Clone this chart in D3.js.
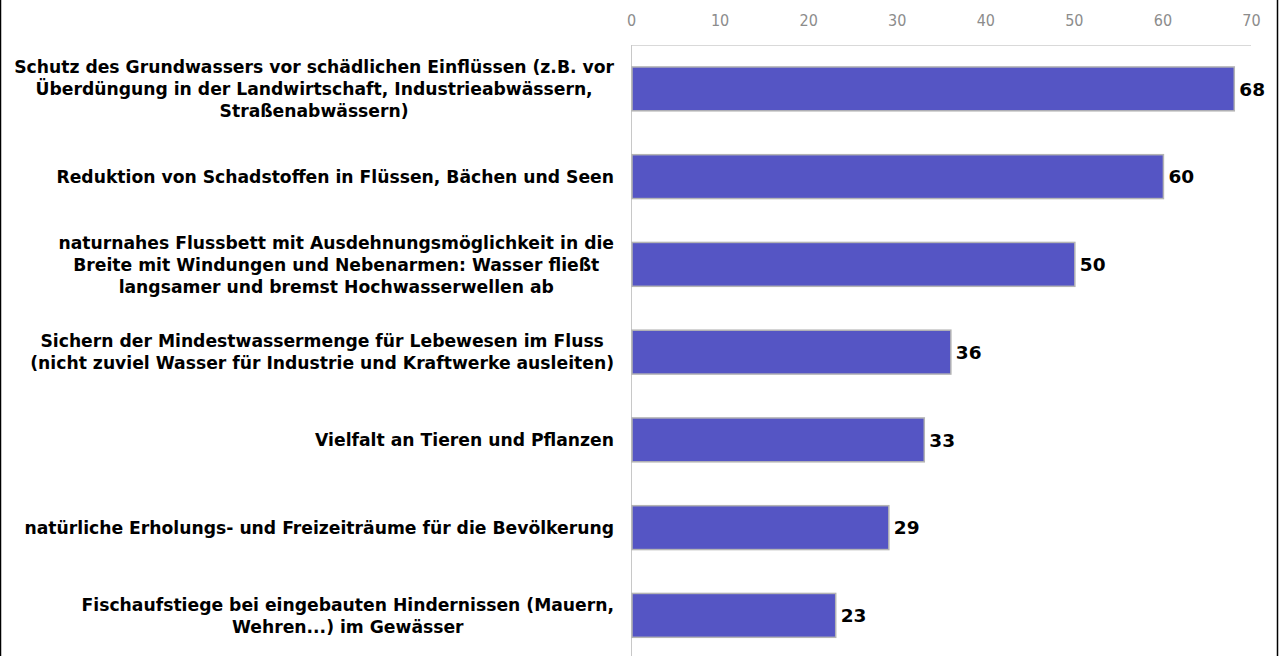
<!DOCTYPE html>
<html>
  <head>
    <meta charset="utf-8">
    <script src="https://d3js.org/d3.v7.min.js"></script>
    <style>
      body { margin: 0; background: #fff; }
      svg { display: block; }
      .cat { font-family: "DejaVu Sans", sans-serif; font-weight: bold; font-size: 17.2px; fill: #000; }
      .val { font-family: "DejaVu Sans", sans-serif; font-weight: bold; font-size: 18.5px; fill: #000; }
      .tick text { font-family: "DejaVu Sans Condensed", "DejaVu Sans", sans-serif; font-size: 16px; fill: #8c8c8c; }
    </style>
  </head>
  <body>
    <script>
      // answers (multi-line labels split by "\n")
      var categories = [
        "Schutz des Grundwassers vor schädlichen Einflüssen (z.B. vor\nÜberdüngung in der Landwirtschaft, Industrieabwässern,\nStraßenabwässern)",
        "Reduktion von Schadstoffen in Flüssen, Bächen und Seen",
        "naturnahes Flussbett mit Ausdehnungsmöglichkeit in die\nBreite mit Windungen und Nebenarmen: Wasser fließt\nlangsamer und bremst Hochwasserwellen ab",
        "Sichern der Mindestwassermenge für Lebewesen im Fluss\n(nicht zuviel Wasser für Industrie und Kraftwerke ausleiten)",
        "Vielfalt an Tieren und Pflanzen",
        "natürliche Erholungs- und Freizeiträume für die Bevölkerung",
        "Fischaufstiege bei eingebauten Hindernissen (Mauern,\nWehren...) im Gewässer"
      ];
      var values = [68, 60, 50, 36, 33, 29, 23];
      var ticks = [0, 10, 20, 30, 40, 50, 60, 70];

      var width = 1279, height = 656;
      var plotLeft = 631, plotRight = 1251, plotTop = 45;

      var svg = d3.select("body").append("svg")
          .attr("width", width)
          .attr("height", height);

      var x = d3.scaleLinear().domain([0, 70]).range([plotLeft, plotRight]);
      var y = d3.scaleBand().domain(d3.range(categories.length))
          .range([plotTop, plotTop + 87.75 * categories.length])
          .paddingInner(0.5).paddingOuter(0.25);

      // top axis, labels only
      var ax = svg.append("g")
          .attr("transform", "translate(0,20)")
          .call(d3.axisTop(x).tickValues(ticks).tickSize(0).tickPadding(0));
      ax.select(".domain").remove();
      ax.selectAll("text").attr("dy", "0.36em");

      // top gridline + vertical category axis
      svg.append("line")
          .attr("x1", plotLeft).attr("x2", plotRight)
          .attr("y1", plotTop + 0.5).attr("y2", plotTop + 0.5)
          .attr("stroke", "#d9d9d9");
      svg.append("line")
          .attr("x1", plotLeft + 0.5).attr("x2", plotLeft + 0.5)
          .attr("y1", plotTop).attr("y2", height)
          .attr("stroke", "#c8c8c8");

      // bars
      svg.selectAll("rect.bar")
          .data(values)
        .enter().append("rect")
          .attr("class", "bar")
          .attr("x", x(0) + 1)
          .attr("y", function (d, i) { return y(i); })
          .attr("width", function (d) { return x(d) - x(0); })
          .attr("height", y.bandwidth())
          .attr("fill", "#5555c4")
          .attr("stroke", "#b4b4b4")
          .attr("stroke-width", 1.5);

      // value labels
      svg.selectAll("text.val")
          .data(values)
        .enter().append("text")
          .attr("class", "val")
          .attr("x", function (d) { return x(d) + 6; })
          .attr("y", function (d, i) { return y(i) + y.bandwidth() / 2; })
          .attr("dy", "0.36em")
          .text(function (d) { return d; });

      // category labels: centred block, right edge at 614
      var lineH = 22;
      categories.forEach(function (c, i) {
        var lines = c.split("\n");
        var g = svg.append("text").attr("class", "cat").attr("text-anchor", "middle");
        var cy = y(i) + y.bandwidth() / 2;
        var spans = lines.map(function (l, j) {
          return g.append("tspan")
            .attr("y", cy + (j - (lines.length - 1) / 2) * lineH)
            .attr("dy", "0.36em")
            .text(l);
        });
        var w = d3.max(spans, function (s) { return s.node().getComputedTextLength(); });
        spans.forEach(function (s) { s.attr("x", 614 - w / 2); });
      });

      // frame edges
      svg.append("line").attr("x1", 0.5).attr("x2", 0.5).attr("y1", 0).attr("y2", height)
          .attr("stroke", "#000").attr("stroke-width", 1.5);
      svg.append("line").attr("x1", 1277.5).attr("x2", 1277.5).attr("y1", 0).attr("y2", height)
          .attr("stroke", "#000").attr("stroke-width", 1.5);
    </script>
  </body>
</html>
